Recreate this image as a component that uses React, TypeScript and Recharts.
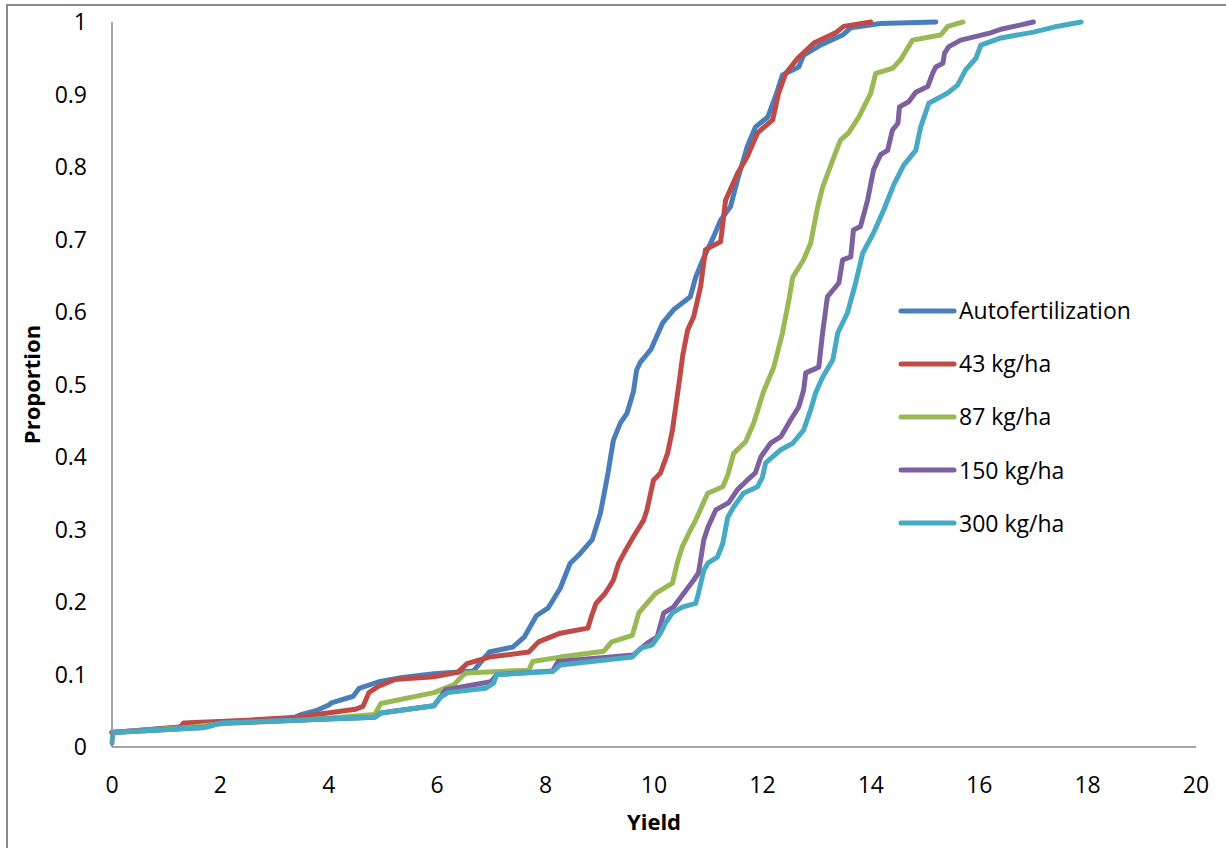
import { LineChart, Line, XAxis, YAxis, Legend } from 'recharts'

// axis ticks
const xTicks = [0, 2, 4, 6, 8, 10, 12, 14, 16, 18, 20]
const yTicks = [0, 0.1, 0.2, 0.3, 0.4, 0.5, 0.6, 0.7, 0.8, 0.9, 1]

// cumulative proportion curves, [yield, proportion]
const autofertilization: [number, number][] = [
  [0, 0.02], [1.3, 0.028], [2.0, 0.034], [3.3, 0.039], [3.5, 0.045], [3.76, 0.05], [4.0, 0.058],
  [4.05, 0.061], [4.45, 0.07], [4.56, 0.081], [4.92, 0.09], [5.36, 0.096], [5.94, 0.101],
  [6.67, 0.105], [6.78, 0.115], [6.96, 0.131], [7.4, 0.138], [7.61, 0.152], [7.83, 0.181],
  [8.05, 0.192], [8.27, 0.219], [8.45, 0.253], [8.64, 0.267], [8.86, 0.286], [9.01, 0.322],
  [9.14, 0.373], [9.25, 0.423], [9.38, 0.447], [9.5, 0.46], [9.62, 0.49], [9.68, 0.52],
  [9.75, 0.531], [9.94, 0.548], [10.16, 0.585], [10.36, 0.603], [10.67, 0.621], [10.77, 0.648],
  [10.9, 0.672], [11.1, 0.704], [11.23, 0.727], [11.41, 0.745], [11.54, 0.782], [11.72, 0.828],
  [11.87, 0.855], [12.1, 0.869], [12.24, 0.897], [12.37, 0.927], [12.67, 0.938], [12.76, 0.954],
  [13.07, 0.968], [13.48, 0.982], [13.63, 0.992], [14.18, 0.998], [15.2, 1.0],
]

const kg43: [number, number][] = [
  [0, 0.02], [1.25, 0.027], [1.32, 0.033], [2.5, 0.037], [3.4, 0.041], [4.49, 0.052], [4.63, 0.056],
  [4.74, 0.075], [4.92, 0.084], [5.21, 0.093], [5.94, 0.097], [6.38, 0.103], [6.55, 0.115],
  [6.96, 0.124], [7.69, 0.131], [7.87, 0.145], [8.27, 0.157], [8.78, 0.164], [8.85, 0.181],
  [8.93, 0.198], [9.1, 0.212], [9.25, 0.23], [9.35, 0.254], [9.51, 0.276], [9.62, 0.29],
  [9.81, 0.313], [9.87, 0.327], [9.99, 0.368], [10.12, 0.378], [10.25, 0.405], [10.34, 0.437],
  [10.4, 0.469], [10.47, 0.506], [10.53, 0.54], [10.62, 0.575], [10.73, 0.593], [10.86, 0.635],
  [10.95, 0.686], [11.23, 0.697], [11.32, 0.754], [11.54, 0.791], [11.72, 0.814], [11.91, 0.847],
  [12.19, 0.865], [12.3, 0.902], [12.43, 0.929], [12.65, 0.95], [12.95, 0.971], [13.35, 0.985],
  [13.5, 0.994], [14.0, 1.0],
]

const kg87: [number, number][] = [
  [0, 0.02], [1.4, 0.027], [2.0, 0.032], [3.5, 0.037], [4.85, 0.045], [4.96, 0.06], [5.94, 0.075],
  [6.31, 0.086], [6.45, 0.097], [6.53, 0.102], [7.69, 0.106], [7.76, 0.118], [8.27, 0.124],
  [9.07, 0.132], [9.22, 0.145], [9.6, 0.154], [9.72, 0.185], [9.81, 0.193], [10.03, 0.212],
  [10.34, 0.226], [10.43, 0.254], [10.52, 0.276], [10.67, 0.299], [10.77, 0.313], [10.99, 0.35],
  [11.27, 0.359], [11.36, 0.375], [11.47, 0.405], [11.69, 0.421], [11.84, 0.447], [12.02, 0.49],
  [12.21, 0.524], [12.37, 0.571], [12.49, 0.617], [12.56, 0.648], [12.76, 0.672], [12.89, 0.695],
  [13.02, 0.745], [13.11, 0.772], [13.32, 0.814], [13.44, 0.837], [13.59, 0.847], [13.78, 0.869],
  [14.0, 0.902], [14.09, 0.929], [14.4, 0.936], [14.55, 0.948], [14.77, 0.975], [15.29, 0.982],
  [15.42, 0.994], [15.7, 1.0],
]

const kg150: [number, number][] = [
  [0, 0.02], [1.7, 0.027], [2.0, 0.033], [4.85, 0.041], [4.96, 0.047], [5.94, 0.057], [6.05, 0.068],
  [6.16, 0.079], [6.99, 0.09], [7.1, 0.1], [8.13, 0.105], [8.23, 0.118], [9.62, 0.127],
  [9.87, 0.143], [10.06, 0.152], [10.18, 0.185], [10.36, 0.193], [10.55, 0.212], [10.73, 0.23],
  [10.82, 0.24], [10.92, 0.286], [11.0, 0.304], [11.14, 0.327], [11.38, 0.337], [11.54, 0.355],
  [11.72, 0.368], [11.87, 0.378], [11.97, 0.4], [12.15, 0.419], [12.34, 0.428], [12.52, 0.451],
  [12.67, 0.469], [12.76, 0.492], [12.8, 0.516], [13.04, 0.524], [13.11, 0.571], [13.2, 0.621],
  [13.41, 0.64], [13.48, 0.672], [13.63, 0.676], [13.68, 0.713], [13.81, 0.718], [13.94, 0.754],
  [14.05, 0.796], [14.18, 0.817], [14.31, 0.823], [14.4, 0.851], [14.5, 0.86], [14.53, 0.883],
  [14.7, 0.89], [14.83, 0.903], [15.05, 0.911], [15.14, 0.929], [15.2, 0.938], [15.33, 0.943],
  [15.36, 0.957], [15.44, 0.966], [15.66, 0.975], [16.21, 0.985], [16.4, 0.99], [16.77, 0.996],
  [17.0, 1.0],
]

const kg300: [number, number][] = [
  [0, 0.005], [0.02, 0.02], [1.72, 0.027], [2.01, 0.033], [4.85, 0.041], [4.96, 0.047],
  [5.94, 0.057], [6.05, 0.068], [6.2, 0.075], [6.89, 0.081], [7.04, 0.088], [7.1, 0.1],
  [8.13, 0.104], [8.27, 0.113], [9.6, 0.124], [9.75, 0.136], [9.97, 0.141], [10.12, 0.157],
  [10.21, 0.171], [10.34, 0.185], [10.52, 0.193], [10.77, 0.198], [10.82, 0.212], [10.92, 0.244],
  [11.0, 0.254], [11.17, 0.262], [11.27, 0.281], [11.36, 0.317], [11.47, 0.331], [11.65, 0.35],
  [11.91, 0.359], [12.0, 0.372], [12.06, 0.392], [12.34, 0.41], [12.56, 0.419], [12.76, 0.437],
  [12.89, 0.465], [12.98, 0.488], [13.11, 0.51], [13.3, 0.534], [13.39, 0.571], [13.57, 0.599],
  [13.72, 0.64], [13.85, 0.681], [14.05, 0.709], [14.24, 0.741], [14.42, 0.775], [14.61, 0.803],
  [14.83, 0.823], [14.92, 0.855], [15.07, 0.888], [15.42, 0.902], [15.6, 0.913], [15.75, 0.934],
  [15.94, 0.95], [16.03, 0.968], [16.4, 0.978], [17.0, 0.986], [17.38, 0.993], [17.88, 1.0],
]

const series = [
  { name: 'Autofertilization', color: '#4A7EBB', points: autofertilization },
  { name: '43 kg/ha', color: '#BE4B48', points: kg43 },
  { name: '87 kg/ha', color: '#98B954', points: kg87 },
  { name: '150 kg/ha', color: '#7D60A0', points: kg150 },
  { name: '300 kg/ha', color: '#46AAC5', points: kg300 },
]

const font = "'Open Sans', sans-serif"
const axisGrey = '#898989'

const LegendBox = () => (
  <div style={{ fontFamily: font, fontSize: 23, color: '#000' }}>
    {series.map((s) => (
      <div key={s.name} style={{ display: 'flex', alignItems: 'center', height: 53.2 }}>
        <svg width={60} height={10} style={{ marginRight: 1 }}>
          <line x1={3} y1={5} x2={56} y2={5} stroke={s.color} strokeWidth={5} strokeLinecap="round" />
        </svg>
        <span style={{ lineHeight: 1 }}>{s.name}</span>
      </div>
    ))}
  </div>
)

const App = () => {
  return (
    <div style={{ position: 'absolute', left: 0, top: 0, width: 1226, height: 848, overflow: 'hidden', background: '#fff' }}>
      <div
        style={{
          position: 'absolute', left: 6, top: 4, width: 1220, height: 844,
          borderLeft: `2px solid ${axisGrey}`, borderTop: `2px solid ${axisGrey}`,
        }}
      />
      <div style={{ position: 'absolute', left: 0, top: 0 }}>
        <LineChart width={1226} height={848} margin={{ top: 22, right: 30, bottom: 41, left: 0 }}>
          <XAxis
            type="number"
            dataKey="x"
            domain={[0, 20]}
            ticks={xTicks}
            height={60}
            tickLine={false}
            tickSize={0}
            tickMargin={30}
            axisLine={{ stroke: axisGrey, strokeWidth: 1.5 }}
            tick={{ fill: '#000', fontSize: 23, fontFamily: font }}
            label={{ value: 'Yield', position: 'bottom', offset: 7, style: { fill: '#000', fontSize: 22, fontWeight: 700, fontFamily: font } }}
          />
          <YAxis
            type="number"
            dataKey="y"
            domain={[0, 1]}
            ticks={yTicks}
            width={112}
            tickLine={false}
            tickSize={0}
            tickMargin={25}
            axisLine={{ stroke: axisGrey, strokeWidth: 1.5 }}
            tick={{ fill: '#000', fontSize: 23, fontFamily: font }}
            label={{
              value: 'Proportion', angle: -90, position: 'insideLeft', offset: 32,
              style: { textAnchor: 'middle', fill: '#000', fontSize: 22, fontWeight: 700, fontFamily: font },
            }}
          />
          <Legend
            layout="vertical"
            align="center"
            verticalAlign="middle"
            wrapperStyle={{ left: 898, top: 284, width: 320 }}
            content={() => <LegendBox />}
          />
          {series.map((s) => (
            <Line
              key={s.name}
              name={s.name}
              data={s.points.map(([x, y]) => ({ x, y }))}
              dataKey="y"
              type="linear"
              stroke={s.color}
              strokeWidth={5}
              strokeLinecap="round"
              strokeLinejoin="round"
              dot={false}
              activeDot={false}
              isAnimationActive={false}
            />
          ))}
        </LineChart>
      </div>
    </div>
  )
}

export default App
